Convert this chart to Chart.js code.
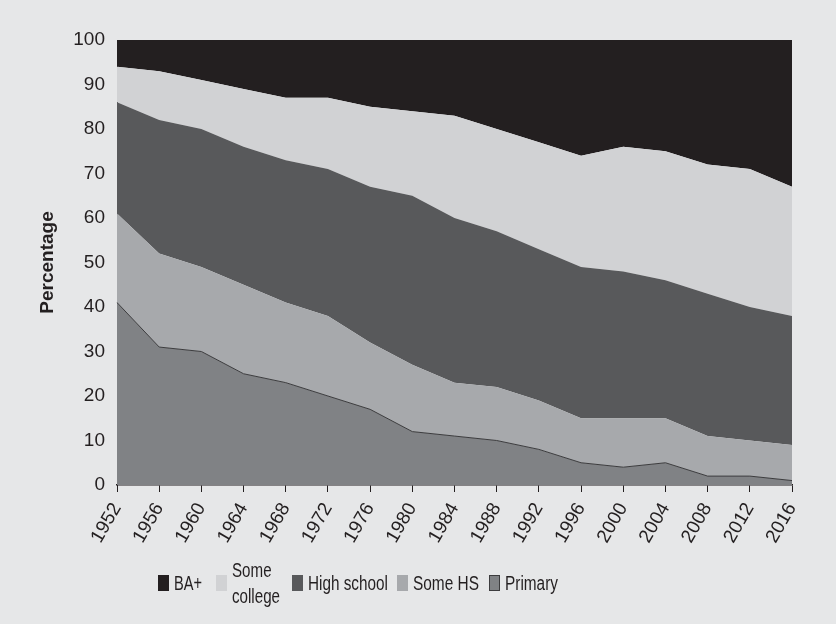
<!DOCTYPE html>
<html>
<head>
<meta charset="utf-8">
<script src="https://cdn.jsdelivr.net/npm/chart.js@4.4.1/dist/chart.umd.min.js"></script>
<style>
  html, body { margin:0; padding:0; background:#e6e7e8; }
  #wrap { position:relative; width:836px; height:624px; background:#e6e7e8; }
  #c { position:absolute; left:0; top:0; }
  #legend { position:absolute; left:0; top:557px; width:836px; height:52px;
    font-family:'Liberation Sans',Arial,sans-serif; font-size:20px; color:#231f20; }
  .item { position:absolute; display:flex; align-items:center; }
  .box { width:11px; height:16px; margin-right:5px; box-sizing:border-box; flex:none; }
  .lbl { line-height:26px; white-space:nowrap; overflow:visible; }
  .lbl span { display:inline-block; transform-origin:0 50%; }
</style>
</head>
<body>
<div id="wrap">
  <canvas id="c" width="836" height="624"></canvas>
  <div id="legend"></div>
</div>
<script>
const years = ['1952','1956','1960','1964','1968','1972','1976','1980','1984','1988','1992','1996','2000','2004','2008','2012','2016'];
const primary     = [41,31,30,25,23,20,17,12,11,10, 8, 5, 4, 5, 2, 2, 1];
const someHS      = [20,21,19,20,18,18,15,15,12,12,11,10,11,10, 9, 8, 8];
const highSchool  = [25,30,31,31,32,33,35,38,37,35,34,34,33,31,32,30,29];
const someCollege = [ 8,11,11,13,14,16,18,19,23,23,24,25,28,29,29,31,29];
const baPlus      = [ 6, 7, 9,11,13,13,15,16,17,20,23,26,24,25,28,29,33];
const yTicks = [0,10,20,30,40,50,60,70,80,90,100];

const seriesNames  = ['Primary','Some HS','High school','Some college','BA+'];
const seriesData   = [primary, someHS, highSchool, someCollege, baPlus];
const seriesColors = ['#808285','#a7a9ac','#58595b','#d1d2d4','#231f20'];

const datasets = seriesData.map((d,i) => ({
  label: seriesNames[i],
  data: d,
  backgroundColor: seriesColors[i],
  borderColor: i === 0 ? '#3c3c3e' : seriesColors[i],
  borderWidth: i === 0 ? 1 : 0,
  fill: i === 0 ? 'origin' : '-1',
  pointRadius: 0,
  tension: 0
}));

const tickFont = { family: "'Liberation Sans', Arial, sans-serif", size: 19 };

new Chart(document.getElementById('c'), {
  type: 'line',
  data: { labels: years, datasets },
  options: {
    responsive: false,
    animation: false,
    devicePixelRatio: 1,
    layout: { padding: { left: 0, top: 40, right: 44, bottom: 0 } },
    plugins: { legend: { display: false }, tooltip: { enabled: false } },
    elements: { line: { borderJoinStyle: 'miter' } },
    scales: {
      x: {
        offset: false,
        grid: { drawOnChartArea: false, drawTicks: true, tickLength: 7, color: '#231f20', lineWidth: 1 },
        border: { display: true, color: '#231f20', width: 1.5 },
        ticks: { color: '#231f20', font: tickFont, minRotation: 60, maxRotation: 60, autoSkip: false, padding: 7 },
        afterFit: s => { s.height = 624 - 485; }
      },
      y: {
        stacked: true,
        min: 0, max: 100,
        afterBuildTicks: s => { s.ticks = yTicks.map(v => ({ value: v })); },
        grid: { display: false, drawTicks: false },
        border: { display: true, color: '#231f20', width: 1 },
        ticks: { color: '#231f20', font: tickFont, padding: 12 },
        title: { display: true, text: 'Percentage', color: '#231f20',
                 font: { family: "'Liberation Sans', Arial, sans-serif", size: 19, weight: 'bold' },
                 padding: { top: 36, bottom: 0 } },
        afterFit: s => { s.width = 117; }
      }
    }
  }
});

// HTML legend (order BA+ -> Primary); text compressed to the condensed face of the original
const legendItems = [
  { name: ['BA+'], color: seriesColors[4], x: 158, w: 28 },
  { name: ['Some','college'], color: seriesColors[3], x: 216, w: 48 },
  { name: ['High school'], color: seriesColors[2], x: 292, w: 80 },
  { name: ['Some HS'], color: seriesColors[1], x: 397, w: 66 },
  { name: ['Primary'], color: seriesColors[0], x: 489, w: 53, border: true }
];
const lg = document.getElementById('legend');
legendItems.forEach(it => {
  const d = document.createElement('div');
  d.className = 'item';
  d.style.left = it.x + 'px';
  d.style.top = '0px';
  d.style.height = '52px';
  const b = document.createElement('div');
  b.className = 'box';
  b.style.background = it.color;
  if (it.border) b.style.border = '1px solid #3c3c3e';
  const t = document.createElement('div');
  t.className = 'lbl';
  t.style.width = it.w + 'px';
  const spans = it.name.map(n => { const s = document.createElement('span'); s.textContent = n; return s; });
  spans.forEach((s, k) => { t.appendChild(s); if (k < spans.length - 1) t.appendChild(document.createElement('br')); });
  d.appendChild(b); d.appendChild(t);
  lg.appendChild(d);
  const natural = Math.max(...spans.map(s => s.getBoundingClientRect().width));
  const k = it.w / natural;
  spans.forEach(s => { s.style.transform = 'scaleX(' + k.toFixed(3) + ')'; });
});
</script>
</body>
</html>
